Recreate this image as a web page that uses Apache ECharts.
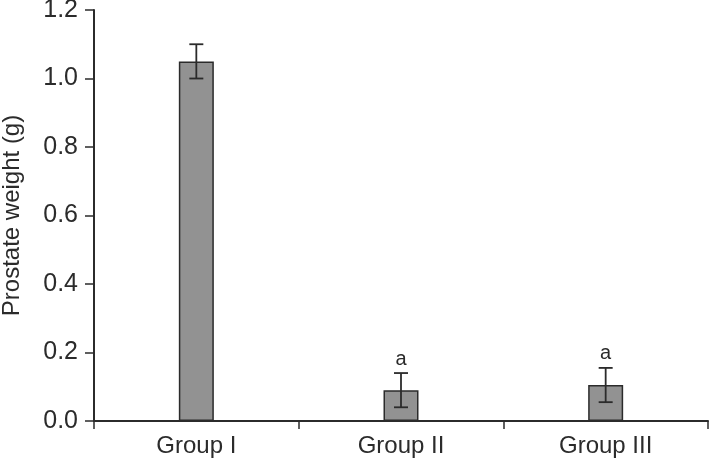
<!DOCTYPE html>
<html>
<head>
<meta charset="utf-8">
<script src="https://cdn.jsdelivr.net/npm/echarts@6/dist/echarts.min.js"></script>
<style>
  html, body { margin: 0; padding: 0; background: #fff; }
  #chart { width: 709px; height: 462px; }
</style>
</head>
<body>
<div id="chart"></div>
<script>
// data
const groups = ['Group I', 'Group II', 'Group III'];
const weights = [1.05, 0.09, 0.105];
const errors = [0.05, 0.05, 0.05];
const marks = ['', 'a', 'a'];
const yTicks = [0, 0.2, 0.4, 0.6, 0.8, 1.0, 1.2];

const FONT = 'Liberation Sans, Arial, sans-serif';
const INK = '#2b2b2b';

const chart = echarts.init(document.getElementById('chart'));

// error bar + significance letter per group
function renderErr(params, api) {
  const idx = api.value(0);
  const mean = api.value(1);
  const err = api.value(2);
  const top = api.coord([idx, mean + err]);
  const bot = api.coord([idx, mean - err]);
  const cap = 7;
  const style = { stroke: INK, lineWidth: 1.8 };
  const children = [
    { type: 'line', shape: { x1: top[0], y1: top[1], x2: bot[0], y2: bot[1] }, style },
    { type: 'line', shape: { x1: top[0] - cap, y1: top[1], x2: top[0] + cap, y2: top[1] }, style },
    { type: 'line', shape: { x1: bot[0] - cap, y1: bot[1], x2: bot[0] + cap, y2: bot[1] }, style },
  ];
  if (marks[idx]) {
    children.push({
      type: 'text',
      style: {
        text: marks[idx], x: top[0], y: top[1] - 4,
        align: 'center', verticalAlign: 'bottom',
        font: '20px ' + FONT, fill: INK,
      },
    });
  }
  return { type: 'group', children };
}

chart.setOption({
  animation: false,
  grid: { left: 94, right: 1, top: 10, bottom: 41, containLabel: false, outerBoundsMode: 'none' },
  xAxis: {
    type: 'category',
    data: groups,
    axisLine: { lineStyle: { color: INK, width: 2 } },
    axisTick: { show: true, length: 8, lineStyle: { color: INK, width: 1.5 } },
    axisLabel: { color: INK, fontSize: 24, fontFamily: FONT, margin: 13 },
  },
  yAxis: {
    type: 'value',
    min: 0,
    max: 1.2,
    interval: 0.2,
    name: 'Prostate weight (g)',
    nameLocation: 'middle',
    nameGap: 70,
    nameTextStyle: { color: INK, fontSize: 24, fontFamily: FONT },
    splitLine: { show: false },
    axisLine: { show: true, lineStyle: { color: INK, width: 2 } },
    axisTick: { show: true, length: 9, lineStyle: { color: INK, width: 1.5 } },
    axisLabel: {
      color: INK, fontSize: 25, fontFamily: FONT, margin: 16,
      formatter: v => {
        const hit = yTicks.find(t => Math.abs(t - v) < 1e-9);
        return hit === undefined ? '' : hit.toFixed(1);
      },
    },
  },
  series: [
    {
      type: 'bar',
      data: weights,
      barWidth: 35,
      itemStyle: { color: '#929292', borderColor: INK, borderWidth: 1.5 },
    },
    {
      type: 'custom',
      renderItem: renderErr,
      data: groups.map((g, i) => [i, weights[i], errors[i]]),
      z: 5,
    },
  ],
});
</script>
</body>
</html>
